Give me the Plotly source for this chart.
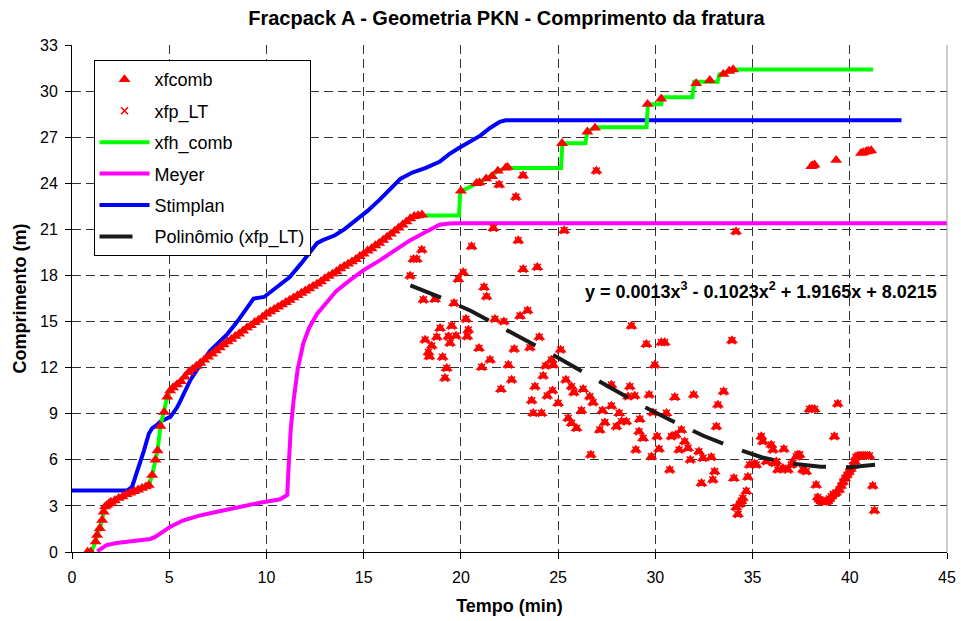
import plotly.graph_objects as go

# ---------------- data ----------------
# xfcomb - main rising curve (time in min, length in m)
t_curve = [0.8, 0.96, 1.21, 1.29, 1.43, 1.55, 1.63, 1.7, 1.8, 1.9, 2.0, 2.2, 2.4, 2.6, 2.8, 3.0,
           3.2, 3.4, 3.6, 3.8, 3.95, 4.12, 4.29, 4.4, 4.55, 4.74, 4.9, 5.05, 5.2, 5.4, 5.6, 5.8,
           6.0, 6.2, 6.4, 6.6, 6.8, 7.0, 7.2, 7.4, 7.6, 7.8, 8.0, 8.2, 8.4, 8.6, 8.8, 9.0, 9.2,
           9.4, 9.6, 9.8, 10.0, 10.2, 10.4, 10.6, 10.8, 11.0, 11.2, 11.4, 11.6, 11.8, 12.0, 12.2,
           12.4, 12.6, 12.8, 13.0, 13.2, 13.4, 13.6, 13.8, 14.0, 14.2, 14.4, 14.6, 14.8, 15.0,
           15.2, 15.4, 15.6, 15.8, 16.0, 16.2, 16.4, 16.6, 16.8, 17.0, 17.2, 17.4, 17.6, 17.8, 18.0]
l_curve = [0.0, 0.0, 0.67, 1.1, 1.54, 2.08, 2.62, 2.95, 3.05, 3.15, 3.25, 3.35, 3.5, 3.6, 3.75, 3.85,
           3.95, 4.05, 4.15, 4.25, 4.35, 5.0, 6.0, 6.6, 8.2, 9.1, 10.1, 10.5, 10.7, 10.9, 11.1, 11.4,
           11.7, 11.9, 12.1, 12.3, 12.5, 12.7, 12.9, 13.1, 13.3, 13.5, 13.7, 13.85, 14.05, 14.2, 14.4,
           14.6, 14.75, 14.95, 15.1, 15.3, 15.5, 15.65, 15.8, 15.95, 16.1, 16.25, 16.4, 16.55, 16.7,
           16.85, 17.0, 17.15, 17.3, 17.45, 17.6, 17.8, 17.95, 18.1, 18.25, 18.45, 18.6, 18.75, 18.9,
           19.05, 19.25, 19.4, 19.6, 19.75, 19.95, 20.1, 20.3, 20.5, 20.7, 20.9, 21.1, 21.3, 21.5,
           21.7, 21.85, 21.9, 21.95]

# xfcomb - upper step points (only xfcomb)
t_up = [20.0, 20.8, 20.95, 21.3, 21.6, 21.9, 22.3, 22.4, 25.2, 26.5, 26.9, 29.6, 30.3, 32.1,
        32.8, 33.5, 33.8, 34.0, 38.02, 38.1, 38.19, 39.3, 40.58, 40.7, 40.84, 40.95, 41.1]
l_up = [23.5, 24.0, 24.05, 24.3, 24.45, 24.8, 25.0, 25.05, 26.6, 27.35, 27.6, 29.15, 29.5, 30.5,
        30.7, 31.1, 31.3, 31.4, 25.1, 25.15, 25.2, 25.5, 25.96, 26.0, 26.06, 26.1, 26.13]

# xfp_LT - scattered points (also plotted in xfcomb)
t_lt = [21.97, 22.83, 23.2, 26.97, 34.15,
        21.67, 25.31, 22.95, 17.99, 20.55, 17.56, 17.73, 23.2, 23.93, 20.12, 19.87, 17.39, 21.19,
        21.32, 18.07, 18.67, 19.65, 20.26, 21.75, 22.21, 23.04, 23.43, 18.93, 19.53, 18.16, 18.76,
        19.36, 19.44, 19.75, 20.38, 20.33, 18.5, 18.33, 18.38, 19.06, 20.93, 22.74, 23.55, 24.03,
        25.13, 19.27, 19.18, 21.07, 21.5, 22.44, 22.61, 22.06, 23.81, 24.23, 24.36, 24.66, 24.75,
        23.64, 24.44, 24.71, 25.0, 23.72, 24.15, 25.4, 25.69, 25.81, 25.52, 25.69, 25.95,
        28.77, 29.54, 30.31, 30.48, 33.94, 29.97, 26.29, 26.63, 26.8, 27.74, 28.69, 28.6, 28.94,
        29.68, 31.0, 31.97, 33.51, 33.22, 26.2, 27.28, 27.74, 28.14, 28.26, 28.0, 28.51, 29.2,
        29.88, 30.57, 27.4, 27.14, 29.16, 29.37, 30.09, 30.83, 31.05, 31.34, 31.51, 31.68, 33.14,
        31.22, 30.19, 29.0, 29.8, 26.68, 32.24, 32.45, 32.88, 31.8, 30.74, 33.05, 32.96, 32.37,
        34.04, 34.76, 34.68, 34.5, 34.42, 34.33, 34.16, 34.25,
        35.45, 35.53, 35.96, 36.05, 36.61, 35.19, 34.85, 35.71, 36.13, 36.3, 36.56, 36.82, 36.99,
        37.25, 37.42, 37.59, 37.76, 38.27, 35.1, 36.22, 37.07, 37.33,
        38.35, 38.45, 38.55, 38.65, 38.75, 38.85, 38.95, 39.05, 39.15,
        39.3, 39.45, 39.55, 39.65, 39.75, 39.85, 39.95, 40.05, 40.15, 40.25,
        40.32, 40.42, 40.52, 40.62, 40.72, 40.82, 40.92, 41.01,
        41.18, 41.27, 37.93, 38.06, 38.19, 39.38, 39.21]
l_lt = [23.9, 23.1, 24.5, 24.8, 20.85,
        21.07, 20.92, 20.27, 19.66, 19.88, 19.05, 19.05, 18.4, 18.53, 18.19, 17.75, 17.97, 17.23,
        16.62, 16.41, 16.45, 16.19, 15.15, 15.15, 14.99, 15.36, 15.71, 14.56, 14.71, 13.8, 13.98,
        14.02, 13.59, 14.06, 14.45, 14.02, 13.41, 12.98, 12.72, 12.68, 13.26, 13.2, 13.3, 13.98,
        13.15, 11.96, 11.31, 12.02, 12.5, 12.17, 11.2, 10.59, 10.76, 11.46, 12.11, 12.5, 12.17,
        9.85, 10.16, 10.5, 9.68, 9.03, 9.03, 11.2, 10.76, 10.37, 8.7, 8.38, 8.05,
        14.71, 13.52, 13.63, 13.63, 13.76, 12.17, 10.59, 10.11, 9.72, 10.87, 10.76, 10.11, 10.16,
        10.22, 10.07, 10.22, 10.44, 9.57, 9.2, 9.2, 9.5, 9.03, 8.48, 8.16, 8.48, 8.64,
        9.07, 9.03, 8.42, 7.94, 7.83, 7.4, 7.51, 7.51, 7.62, 7.94, 7.18, 6.75, 8.16,
        6.64, 6.69, 6.64, 6.2, 6.32, 6.53, 6.1, 6.16, 5.99, 5.34, 5.23, 4.69, 4.47,
        4.8, 4.88, 3.95, 3.5, 3.3, 3.1, 2.9, 2.45,
        7.51, 7.18, 6.97, 6.64, 6.69, 5.66, 5.66, 5.88, 5.77, 5.34, 5.45, 5.34, 5.66,
        6.2, 6.32, 5.34, 5.23, 4.36, 5.75, 5.88, 5.77, 6.32,
        3.55, 3.4, 3.3, 3.25, 3.25, 3.3, 3.45, 3.6, 3.75,
        3.85, 4.05, 4.3, 4.55, 4.8, 5.0, 5.2, 5.4, 5.6, 5.9,
        6.16, 6.25, 6.25, 6.25, 6.25, 6.25, 6.25, 6.25,
        4.3, 2.69, 9.29, 9.29, 9.29, 9.64, 7.51]

# xfh_comb - green step line
t_green = [0.8, 1.0, 1.21, 1.29, 1.43, 1.55, 1.63, 1.7, 2.0, 2.5, 3.0, 3.5, 3.95, 4.12, 4.29, 4.4,
           4.55, 4.74, 4.9, 5.05, 6.0, 8.0, 10.0, 12.0, 14.0, 16.0, 17.4, 17.8, 19.9, 19.97, 20.8,
           21.3, 21.9, 22.3, 25.15, 25.22, 26.4, 26.5, 26.9, 29.55, 29.62, 30.3, 30.35, 31.9, 32.0,
           33.2, 33.3, 33.8, 34.0, 41.2]
l_green = [0.0, 0.0, 0.67, 1.1, 1.54, 2.08, 2.62, 2.95, 3.25, 3.55, 3.85, 4.1, 4.35, 5.0, 6.0, 6.6,
           8.2, 9.1, 10.1, 10.5, 11.7, 13.7, 15.5, 17.0, 18.6, 20.3, 21.7, 21.9, 21.9, 23.45, 24.0,
           24.3, 24.8, 25.0, 25.0, 26.6, 26.6, 27.35, 27.65, 27.65, 29.15, 29.15, 29.6, 29.6, 30.6,
           30.6, 31.1, 31.3, 31.4, 31.4]

# Meyer
t_meyer = [1.3, 1.8, 2.3, 2.84, 3.5, 4.03, 4.3, 4.55, 5.06, 5.7, 6.5, 7.46, 8.6, 9.68, 10.7, 11.07,
           11.13, 11.25, 11.4, 11.6, 11.9, 12.2, 12.6, 13.1, 13.6, 14.3, 15.0, 15.85, 16.7, 17.4,
           18.0, 18.5, 18.9, 19.4, 19.9, 45.0]
l_meyer = [0.05, 0.46, 0.58, 0.67, 0.78, 0.85, 1.0, 1.23, 1.65, 2.05, 2.35, 2.62, 2.95, 3.21, 3.43,
           3.71, 5.3, 8.0, 9.9, 11.85, 13.6, 14.6, 15.5, 16.3, 17.0, 17.7, 18.35, 19.0, 19.7, 20.3,
           20.7, 21.05, 21.3, 21.38, 21.4, 21.4]

# Stimplan
t_stim = [0.0, 2.84, 3.09, 3.4, 3.7, 3.95, 4.12, 4.4, 4.55, 5.06, 5.4, 5.6, 5.85, 6.09, 6.5, 7.1,
          7.6, 8.0, 8.5, 9.0, 9.34, 9.88, 10.5, 11.2, 11.8, 12.3, 12.6, 12.9, 13.5, 14.0, 14.6,
          15.2, 15.8, 16.3, 16.9, 17.5, 18.2, 18.9, 19.4, 19.9, 20.5, 21.0, 21.5, 22.0, 22.3, 42.66]
l_stim = [4.0, 4.0, 4.25, 5.4, 6.6, 7.7, 8.05, 8.3, 8.5, 8.8, 9.4, 9.9, 10.6, 11.2, 12.0, 13.1,
          13.7, 14.2, 15.0, 15.9, 16.5, 16.6, 17.2, 17.9, 18.8, 19.6, 20.1, 20.3, 20.6, 21.0, 21.6,
          22.2, 22.9, 23.5, 24.3, 24.7, 25.0, 25.4, 25.9, 26.3, 26.7, 27.1, 27.6, 28.0, 28.1, 28.1]

# Polynomial trend line of xfp_LT
t_trend = [17.4, 19.0, 20.5, 22.0, 23.5, 25.0, 26.5, 28.0, 29.5, 31.0, 32.5, 34.0, 35.5, 37.0,
           38.5, 40.0, 41.3]
l_trend = [17.35, 16.55, 15.7, 14.7, 13.7, 12.65, 11.55, 10.5, 9.4, 8.45, 7.55, 6.8, 6.15, 5.75,
           5.55, 5.52, 5.68]

x_ticks = [0, 5, 10, 15, 20, 25, 30, 35, 40, 45]
y_ticks = [0, 3, 6, 9, 12, 15, 18, 21, 24, 27, 30, 33]

eq_text = "y = 0.0013x<sup>3</sup> - 0.1023x<sup>2</sup> + 1.9165x + 8.0215"

FONT = "Liberation Sans, Arial, sans-serif"
RED = "#FF0000"

fig = go.Figure()

fig.add_trace(go.Scatter(x=t_meyer, y=l_meyer, mode="lines", name="Meyer",
                         line=dict(color="#FF00FF", width=4), legendrank=4, legendgroup="d"))
fig.add_trace(go.Scatter(x=t_stim, y=l_stim, mode="lines", name="Stimplan",
                         line=dict(color="#0000FF", width=4), legendrank=5, legendgroup="e"))
fig.add_trace(go.Scatter(x=t_green, y=l_green, mode="lines", name="xfh_comb",
                         line=dict(color="#00FF00", width=4), legendrank=3, legendgroup="c"))
fig.add_trace(go.Scatter(x=t_curve + t_up + t_lt, y=l_curve + l_up + l_lt, mode="markers",
                         name="xfcomb",
                         marker=dict(symbol="triangle-up", size=10.5, color=RED, line=dict(width=0)),
                         legendrank=1, legendgroup="a"))
fig.add_trace(go.Scatter(x=t_lt, y=l_lt, mode="markers", name="xfp_LT",
                         marker=dict(symbol="x-thin", size=7, color=RED,
                                     line=dict(width=1.5, color=RED)),
                         legendrank=2, legendgroup="b"))
fig.add_trace(go.Scatter(x=t_trend, y=l_trend, mode="lines", name="Polinômio (xfp_LT)",
                         line=dict(color="#1a1a1a", width=4, dash="33px,20px"),
                         legendrank=6, legendgroup="f"))

fig.add_annotation(x=26.3, y=17.0, xref="x", yref="y", text="<b>" + eq_text + "</b>",
                   showarrow=False, xanchor="left", yanchor="middle",
                   font=dict(family=FONT, size=18, color="black"))

# right border of plot area
fig.add_shape(type="line", xref="paper", yref="paper", x0=1, x1=1, y0=0, y1=1,
              line=dict(color="#999999", width=1))

axis_common = dict(showline=True, linecolor="black", linewidth=1, ticks="outside", ticklen=6,
                   tickcolor="black", showgrid=True, gridcolor="#333333", gridwidth=1,
                   griddash="9px,5px", zeroline=False, automargin=False,
                   tickfont=dict(family=FONT, size=16, color="black"))

fig.update_layout(
    width=961, height=621,
    margin=dict(l=72, r=14, t=45, b=69),
    paper_bgcolor="white", plot_bgcolor="white",
    title=dict(text="<b>Fracpack A - Geometria PKN - Comprimento da fratura</b>",
               x=0.527, xanchor="center", y=0.971, yanchor="middle", yref="container",
               font=dict(family=FONT, size=20, color="black")),
    xaxis=dict(range=[0, 45], tickvals=x_ticks, ticklabelstandoff=5,
               title=dict(text="<b>Tempo (min)</b>", standoff=14,
                          font=dict(family=FONT, size=18, color="black")),
               **axis_common),
    yaxis=dict(range=[0, 33], tickvals=y_ticks, ticklabelstandoff=4,
               title=dict(text="<b>Comprimento (m)</b>", standoff=8,
                          font=dict(family=FONT, size=18, color="black")),
               **axis_common),
    legend=dict(x=0.0246, y=0.97, xanchor="left", yanchor="top", bgcolor="white",
                bordercolor="black", borderwidth=1, tracegroupgap=5, itemwidth=50,
                font=dict(family=FONT, size=18, color="black")),
    showlegend=True,
)

fig.write_html("out.html")
